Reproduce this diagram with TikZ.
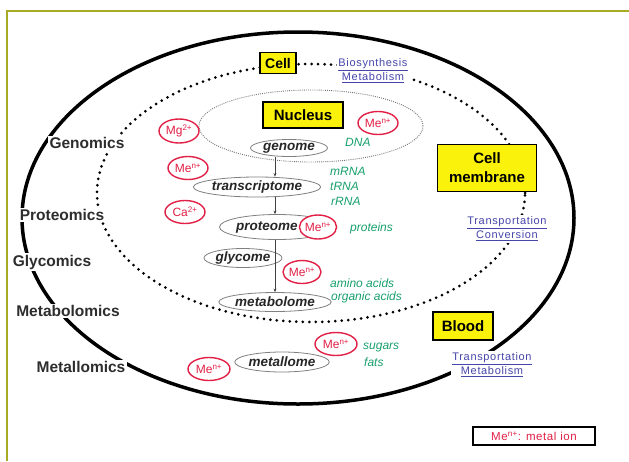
\documentclass[tikz,border=0pt]{standalone}
\usepackage{fontspec}
\setmainfont{Liberation Sans}
\usetikzlibrary{shapes.geometric,arrows.meta,calc}
\definecolor{frameolive}{RGB}{168,170,36}
\definecolor{ionred}{RGB}{226,32,70}
\definecolor{labgreen}{RGB}{24,160,110}
\definecolor{labblue}{RGB}{70,70,170}
\definecolor{boxyellow}{RGB}{250,242,10}
\definecolor{labgray}{RGB}{45,45,45}
\newcommand{\mysize}[2]{\fontsize{#1}{#2}\selectfont}
\newcommand{\Me}{Me\textsuperscript{n+}}
\tikzset{
  omics/.style={font=\mysize{15.5}{17}\bfseries, text=labgray, fill=white, inner sep=1.5pt},
  yellowbox/.style={draw=black, line width=1.3pt, fill=boxyellow, font=\mysize{15}{19}\bfseries, inner sep=0pt, align=center},
  omeshape/.style={ellipse, draw=gray, line width=0.8pt, fill=white, inner sep=0pt, font=\mysize{13.5}{15}\bfseries\itshape, text=black!85},
  iontag/.style={ellipse, draw=ionred, line width=1.4pt, fill=white, inner sep=0pt, text=ionred, font=\mysize{12}{14}},
  greenlab/.style={text=labgreen, font=\mysize{12}{14}\itshape, anchor=west, inner sep=0pt},
  bluelab/.style={text=labblue, font=\mysize{11}{14}\addfontfeatures{LetterSpace=6}, align=center, fill=white, inner sep=1.5pt},
  arr/.style={-{Stealth[length=3.5pt,width=3pt]}, line width=0.7pt, draw=black!75},
  celldots/.style={ellipse, draw=black, line width=3pt, line cap=round, dash pattern=on 0pt off 6.5pt, inner sep=0pt},
  nucdots/.style={ellipse, draw=black!55, line width=0.9pt, dash pattern=on 0.9pt off 1.2pt, inner sep=0pt}
}
\begin{document}
\begin{tikzpicture}[x=1pt,y=-1pt]
\useasboundingbox (0,0) rectangle (629,461);
\fill[white] (0,0) rectangle (629,461);
% frame
\draw[frameolive, line width=2.5pt] (7,461) -- (7,11) -- (629,11);
% outer body ellipse
\node[ellipse, draw=black, line width=3.5pt, minimum width=552pt, minimum height=372pt, inner sep=0pt] (body) at (298,218) {};
% cell (dotted)
\node[celldots, minimum width=428pt, minimum height=258pt] (cellring) at (311,193) {};
% nucleus (fine dotted)
\node[nucdots, minimum width=224pt, minimum height=72pt] (nucring) at (311,126) {};
% omics labels
\node[omics] (genomics) at (87,143) {Genomics};
\node[omics] (proteomics) at (62,215) {Proteomics};
\node[omics] (glycomics) at (52,262) {Glycomics};
\node[omics] (metabolomics) at (68,311) {Metabolomics};
\node[omics] (metallomics) at (81,367) {Metallomics};
% blue labels
\node[bluelab] (biosyn) at (373,71) {\underline{Biosynthesis}\\\underline{Metabolism}};
\node[bluelab] (transconv) at (507,229) {\underline{Transportation}\\\underline{Conversion}};
\node[bluelab] (transmet) at (492,365) {\underline{Transportation}\\\underline{Metabolism}};
% yellow boxes
\node[yellowbox, minimum width=36pt, minimum height=21pt, font=\mysize{14}{16}\bfseries] (cell) at (278,63) {Cell};
\node[yellowbox, minimum width=80pt, minimum height=26pt] (nucleus) at (303,115) {Nucleus};
\node[yellowbox, minimum width=99pt, minimum height=47pt] (membrane) at (487,168) {Cell\\membrane};
\node[yellowbox, minimum width=60pt, minimum height=28pt] (blood) at (463,326) {Blood};
% ome ellipses
\node[omeshape, minimum width=77pt, minimum height=17pt] (genome) at (289,148) {genome};
\node[omeshape, minimum width=120pt, minimum height=20pt] (transcriptome) at (257,187) {transcriptome};
\node[omeshape, minimum width=115pt, minimum height=25pt] (proteome) at (277,227) {};
\node[omeshape, draw=none, fill=none] (proteomelabel) at (267,227) {proteome};
\node[omeshape, minimum width=78pt, minimum height=19pt] (glycome) at (243,258) {glycome};
\node[omeshape, minimum width=95pt, minimum height=19pt] (metabolome) at (275,302) {metabolome};
\node[omeshape, minimum width=92pt, minimum height=20pt] (metallome) at (282,362) {metallome};
% arrows
\coordinate (ax) at (275,0);
\draw[arr] (ax |- genome.south) -- (ax |- transcriptome.north);
\draw[arr] (ax |- transcriptome.south) -- (ax |- proteome.north);
\draw[arr] (ax |- proteome.south) -- (ax |- metabolome.north);
% metal ions
\node[iontag, minimum width=40pt, minimum height=23pt] (menuc) at (378,123) {\Me};
\node[iontag, minimum width=40pt, minimum height=24pt] (mg) at (179,131) {Mg\textsuperscript{2+}};
\node[iontag, minimum width=40pt, minimum height=23pt] (metrans) at (188,168) {\Me};
\node[iontag, minimum width=40pt, minimum height=23pt] (ca) at (185,212) {Ca\textsuperscript{2+}};
\node[iontag, minimum width=33pt, minimum height=24pt] (meprot) at (318,227) {\Me};
\node[iontag, minimum width=38pt, minimum height=23pt] (memetab) at (302,272) {\Me};
\node[iontag, minimum width=42pt, minimum height=23pt] (memetal) at (336,344) {\Me};
\node[iontag, minimum width=42pt, minimum height=23pt] (meleft) at (209,369) {\Me};
% green labels
\node[greenlab] (dna) at (345,142) {DNA};
\node[greenlab] (mrna) at (330,171) {mRNA};
\node[greenlab] (trna) at (330,186) {tRNA};
\node[greenlab] (rrna) at (331,201) {rRNA};
\node[greenlab] (proteins) at (350,228) {proteins};
\node[greenlab] (amino) at (330,283) {amino acids};
\node[greenlab] (organic) at (331,297) {organic acids};
\node[greenlab] (sugars) at (363,348) {sugars};
\node[greenlab] (fats) at (364,362) {fats};
% legend
\node[draw=black, line width=1.3pt, fill=white, minimum width=122pt, minimum height=18pt, inner sep=0pt, text=ionred, font=\mysize{11.5}{13}\addfontfeatures{LetterSpace=5}] (legend) at (534,436) {\Me: metal ion};
\end{tikzpicture}
\end{document}
